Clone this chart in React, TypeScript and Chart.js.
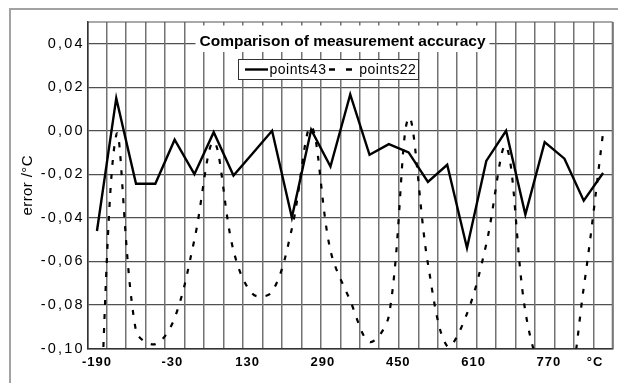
import React, { useEffect, useRef } from 'react';
import { Chart, registerables } from 'chart.js';

Chart.register(...registerables);

// ---- data ----
const CATEGORIES = [-190, -149, -107, -66, -25, 17, 58, 100, 141, 182, 224, 265, 306, 348, 389, 430, 472, 513, 554, 596, 637, 679, 720, 761, 803, 844, 885];
const POINTS43 = [-0.046, 0.015, -0.0243, -0.0243, -0.0041, -0.0199, -0.0006, -0.0205, -0.0103, 0.0, -0.0398, 0.0005, -0.0164, 0.0167, -0.011, -0.0061, -0.0099, -0.0235, -0.0156, -0.0538, -0.0138, 0.0, -0.0385, -0.0052, -0.0128, -0.0321, -0.0194];
const POINTS22 = [-0.17, -0.002, -0.092, -0.098, -0.086, -0.05, -0.005, -0.055, -0.075, -0.074, -0.045, 0.002, -0.055, -0.078, -0.097, -0.085, 0.006, -0.061, -0.099, -0.084, -0.052, -0.007, -0.083, -0.115, -0.125, -0.072, -0.001];
const Y_TICKS = [-0.1, -0.08, -0.06, -0.04, -0.02, 0, 0.02, 0.04];
const X_TICK_VALUES = [-190, -30, 130, 290, 450, 610, 770, 868];
const X_TICK_LABELS = ['-190', '-30', '130', '290', '450', '610', '770', '°C'];
const SERIES_NAMES = ['points43', 'points22'];
const TITLE = 'Comparison of measurement accuracy';
const Y_TITLE = 'error /°C';
const Y_MIN = -0.1;
const Y_MAX = 0.05;

const FAMILY = '"Liberation Sans", Arial, sans-serif';

const letterSpacingPlugin = {
  id: 'letterSpacingWrap',
  beforeDraw(chart: any) {
    const specs: [string, string, string][] = [
      ['y', 'drawLabels', '2.2px'],
      ['y', 'drawTitle', '0.4px'],
      ['x', 'drawLabels', '1px'],
    ];
    for (const [id, m, sp] of specs) {
      const s = chart.scales[id];
      if (!s || s['__ls_' + m]) continue;
      const orig = s[m];
      s[m] = function (...args: any[]) {
        const ctx = chart.ctx as any;
        const prev = ctx.letterSpacing;
        ctx.letterSpacing = sp;
        try {
          return orig.apply(this, args);
        } finally {
          ctx.letterSpacing = prev || '0px';
        }
      };
      s['__ls_' + m] = true;
    }
  },
};

const decorPlugin = {
  id: 'decor',
  beforeDraw(chart: any) {
    const { ctx, width, height } = chart;
    ctx.save();
    ctx.fillStyle = '#ffffff';
    ctx.fillRect(0, 0, width, height);
    ctx.strokeStyle = '#a3a3a3';
    ctx.lineWidth = 2;
    ctx.strokeRect(10, 9, width + 40, height + 40);
    ctx.restore();
  },
  beforeDatasetsDraw(chart: any) {
    const { ctx, chartArea: a } = chart;
    ctx.save();
    // plot frame: top and right
    ctx.strokeStyle = '#555555';
    ctx.lineWidth = 1.2;
    ctx.beginPath();
    ctx.moveTo(a.left, a.top);
    ctx.lineTo(a.right, a.top);
    ctx.stroke();
    ctx.strokeStyle = '#777777';
    ctx.lineWidth = 2;
    ctx.beginPath();
    ctx.moveTo(a.right, a.top);
    ctx.lineTo(a.right, a.bottom);
    ctx.stroke();

    // title with white background
    ctx.font = `bold 15.5px ${FAMILY}`;
    const tw = ctx.measureText(TITLE).width;
    const tcx = 342.5;
    ctx.fillStyle = '#ffffff';
    ctx.fillRect(tcx - tw / 2 - 4, 25.5, tw + 8, 26.5);
    ctx.fillStyle = '#000000';
    ctx.textAlign = 'center';
    ctx.textBaseline = 'alphabetic';
    ctx.fillText(TITLE, tcx, 45.7);

    // legend box
    ctx.fillStyle = '#ffffff';
    ctx.fillRect(238.5, 59.5, 180, 20);
    ctx.strokeStyle = '#333333';
    ctx.lineWidth = 1;
    ctx.strokeRect(238.5, 59.5, 180, 20);
    ctx.strokeStyle = '#000000';
    ctx.lineWidth = 2.4;
    ctx.lineCap = 'butt';
    ctx.beginPath();
    ctx.moveTo(245, 69.5);
    ctx.lineTo(268, 69.5);
    ctx.stroke();
    ctx.setLineDash([6, 11]);
    ctx.beginPath();
    ctx.moveTo(329, 69.5);
    ctx.lineTo(352, 69.5);
    ctx.stroke();
    ctx.setLineDash([]);
    ctx.font = `14px ${FAMILY}`;
    (ctx as any).letterSpacing = '0.5px';
    ctx.textAlign = 'left';
    ctx.fillStyle = '#000000';
    ctx.fillText(SERIES_NAMES[0], 269.5, 74);
    ctx.fillText(SERIES_NAMES[1], 359.3, 74);
    (ctx as any).letterSpacing = '0px';
    ctx.restore();
  },
};

export default function App() {
  const ref = useRef<HTMLCanvasElement>(null);

  useEffect(() => {
    const canvas = ref.current;
    if (!canvas) return;
    const n = CATEGORIES.length;
    const xMin = CATEGORIES[0] - (CATEGORIES[1] - CATEGORIES[0]) / 2;
    const xMax = CATEGORIES[n - 1] + (CATEGORIES[n - 1] - CATEGORIES[n - 2]) / 2;
    const boundaries = [xMin, ...CATEGORIES.slice(1).map((c, i) => (c + CATEGORIES[i]) / 2), xMax];

    const chart = new Chart(canvas, {
      type: 'line',
      data: {
        datasets: [
          {
            label: SERIES_NAMES[0],
            data: CATEGORIES.map((x, i) => ({ x, y: POINTS43[i] })),
            borderColor: '#000000',
            backgroundColor: '#000000',
            borderWidth: 2.4,
            pointRadius: 0,
            tension: 0,
            xAxisID: 'xg',
            yAxisID: 'y',
            order: 1,
          },
          {
            label: SERIES_NAMES[1],
            data: CATEGORIES.map((x, i) => ({ x, y: POINTS22[i] })),
            borderColor: '#000000',
            backgroundColor: '#000000',
            borderWidth: 2.2,
            borderDash: [5, 9],
            pointRadius: 0,
            tension: 0.35,
            xAxisID: 'xg',
            yAxisID: 'y',
            order: 0,
          },
        ],
      },
      options: {
        animation: false,
        responsive: false,
        devicePixelRatio: 1,
        layout: { padding: { left: 0, right: 5.3, top: 22, bottom: 0 } },
        elements: { line: { capBezierPoints: false } as any },
        plugins: {
          legend: { display: false },
          title: { display: false },
          tooltip: { enabled: false },
        },
        scales: {
          y: {
            type: 'linear',
            position: 'left',
            min: Y_MIN,
            max: Y_MAX,
            afterBuildTicks: (s: any) => {
              s.ticks = Y_TICKS.map((v) => ({ value: v }));
            },
            afterFit: (s: any) => {
              s.width = 87.3;
            },
            ticks: {
              callback: (v: any) => Number(v).toFixed(2).replace('.', ','),
              font: { family: FAMILY, size: 14.5 },
              color: '#000000',
              padding: 2.5,
              autoSkip: false,
            },
            grid: { color: '#505050', lineWidth: 1.2, drawTicks: false },
            border: { display: true, color: '#333333', width: 1.5 },
            title: {
              display: true,
              text: Y_TITLE,
              font: { family: FAMILY, size: 15 },
              color: '#000000',
              padding: { top: 19, bottom: 0 },
            },
          },
          xg: {
            type: 'linear',
            position: 'bottom',
            weight: 0,
            min: xMin,
            max: xMax,
            afterBuildTicks: (s: any) => {
              s.ticks = boundaries.map((v) => ({ value: v }));
            },
            afterFit: (s: any) => {
              s.height = 0;
            },
            ticks: { display: false, autoSkip: false },
            grid: { color: '#727272', lineWidth: 1.5, drawTicks: false },
            border: { display: true, color: '#333333', width: 1.5 },
          },
          x: {
            type: 'linear',
            position: 'bottom',
            weight: 1,
            min: xMin,
            max: xMax,
            afterBuildTicks: (s: any) => {
              s.ticks = X_TICK_VALUES.map((v) => ({ value: v }));
            },
            afterFit: (s: any) => {
              s.height = 34.5;
            },
            ticks: {
              autoSkip: false,
              maxRotation: 0,
              padding: 6,
              font: { family: FAMILY, size: 13, weight: 'bold' },
              color: '#000000',
              callback: (_v: any, i: number) => X_TICK_LABELS[i],
            },
            grid: { display: false, drawTicks: false },
            border: { display: false },
          },
        },
      },
      plugins: [letterSpacingPlugin, decorPlugin],
    } as any);

    return () => chart.destroy();
  }, []);

  return (
    <div style={{ position: 'fixed', left: 0, top: 0, width: 618, height: 383, background: '#fff' }}>
      <canvas ref={ref} width={618} height={383} style={{ display: 'block', width: 618, height: 383 }} />
    </div>
  );
}
